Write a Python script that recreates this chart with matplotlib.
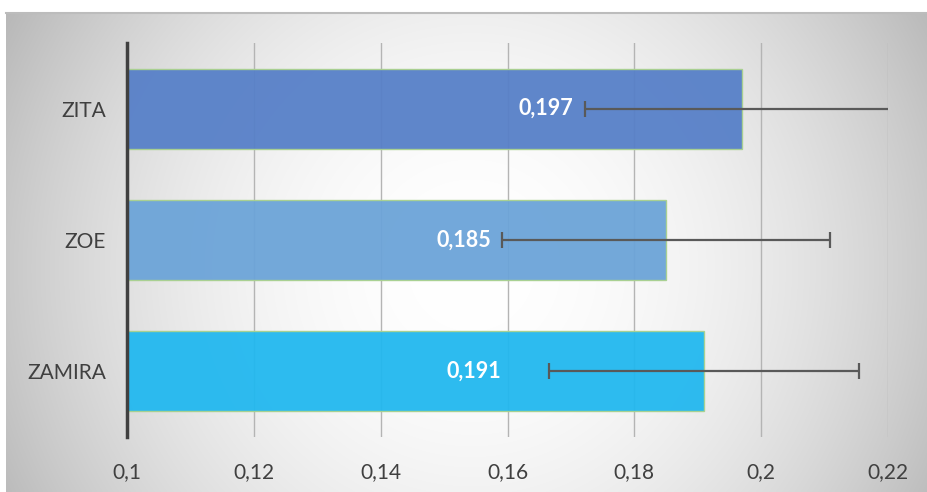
import matplotlib.pyplot as plt
import numpy as np

# data (top to bottom in the picture: ZITA, ZOE, ZAMIRA)
names = ["ZAMIRA", "ZOE", "ZITA"]
values = [0.191, 0.185, 0.197]
errors = [0.0245, 0.0259, 0.0248]
value_labels = ["0,191", "0,185", "0,197"]
ticks = [0.1, 0.12, 0.14, 0.16, 0.18, 0.2, 0.22]
tick_labels = ["0,1", "0,12", "0,14", "0,16", "0,18", "0,2", "0,22"]

# where the (manually moved) data labels end, in data units
label_x = [0.1590, 0.1574, 0.1703]
colors = ["#22b8ef", "#6ca4d8", "#5780c8"]

plt.rcParams['font.family'] = ['Lato', 'DejaVu Sans']

W, H = 927, 492
fig = plt.figure(figsize=(W / 100, H / 100), dpi=100)

# radial gradient background of the chart area
bg = fig.add_axes([6 / W, 0, (W - 6) / W, (H - 13) / H], zorder=-5)
gw, gh = W - 6, H - 13
xx, yy = np.meshgrid(np.arange(gw), np.arange(gh))
d = np.sqrt((xx - 465) ** 2 + (yy - 255) ** 2)
v = 1 - 0.21 * (d / 460) ** 2
v = np.clip(v, 0.72, 1)
bg.imshow(np.dstack([v, v, v]), aspect='auto', extent=[0, gw, gh, 0])
bg.set_xlim(0, gw)
bg.set_ylim(gh, 0)
bg.axis('off')
fig.add_artist(plt.Line2D([6 / W, 1], [(H - 13) / H] * 2, color="#bcbcbc", lw=1.5))

ax = fig.add_axes([127 / W, (H - 437) / H, (888 - 127) / W, (437 - 43) / H])
ax.patch.set_alpha(0)

y = np.arange(len(names))
ax.barh(y, [v_ - 0.1 for v_ in values], left=0.1, height=0.61, color=colors,
        alpha=0.95, edgecolor="#a9d18e", linewidth=1, zorder=2)
ax.errorbar(values, y, xerr=errors, fmt='none', ecolor="#595959", elinewidth=1.6,
            capsize=5.5, capthick=1.6, zorder=3)

for yi, lx, lab in zip(y, label_x, value_labels):
    ax.text(lx, yi, lab, ha='right', va='center', color='white',
            fontsize=15.5, fontweight='bold', zorder=4)

ax.set_xlim(0.1, 0.22)
ax.set_ylim(-0.5, 2.5)
ax.set_xticks(ticks)
ax.set_xticklabels(tick_labels)
ax.set_yticks(y)
ax.set_yticklabels(names)
ax.tick_params(axis='both', length=0, labelsize=15, colors="#404040")
ax.tick_params(axis='x', pad=18)
ax.tick_params(axis='y', pad=15)
ax.grid(axis='x', color="#b4b4b4", lw=1, zorder=1)
ax.set_axisbelow(True)
for s in ['top', 'right', 'bottom']:
    ax.spines[s].set_visible(False)
ax.spines['left'].set_color("#404040")
ax.spines['left'].set_linewidth(2.5)
ax.spines['left'].set_zorder(5)

fig.savefig("out.png", dpi=100)
